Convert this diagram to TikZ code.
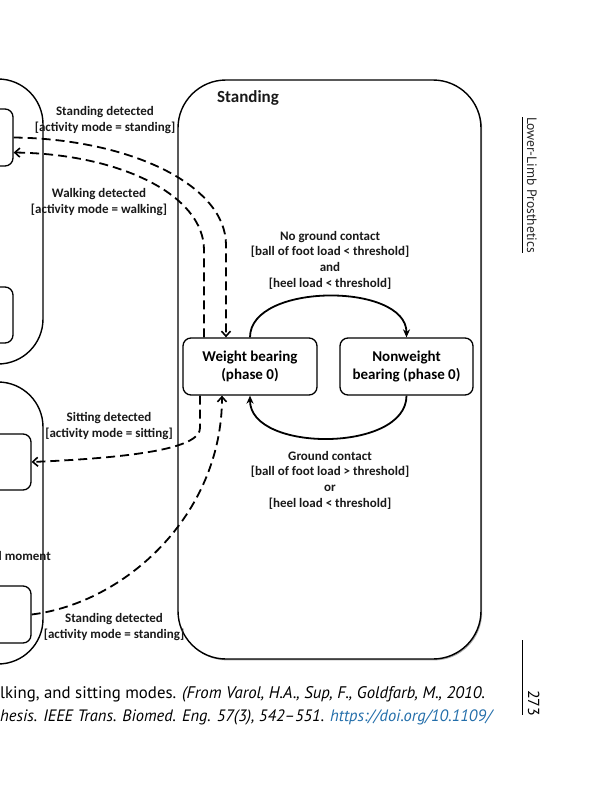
\documentclass[tikz,border=0pt]{standalone}
\usepackage{fontspec}
\setmainfont{Carlito}
\newfontfamily\capfont{PT Sans}
\usetikzlibrary{arrows.meta,shadows}
\definecolor{doiblue}{RGB}{35,110,170}

\begin{document}
\begin{tikzpicture}[x=1pt, y=-1pt,
  groupbox/.style={draw, line width=1.4pt, rounded corners=45pt, inner sep=0pt},
  statebox/.style={draw, line width=1.3pt, rounded corners=8pt, inner sep=0pt,
    align=center, font=\fontsize{15}{17.5}\selectfont\bfseries},
  lbl/.style={align=center, inner sep=0pt, text=black!90,
    font=\fontsize{13}{15.6}\selectfont\bfseries},
  trans/.style={line width=1.8pt, dash pattern=on 9pt off 5pt,
    -{Straight Barb[length=5pt,width=9pt,line width=1.6pt]}},
  cond/.style={line width=1.8pt, -{Stealth[length=8pt,width=7pt]}},
]
  \useasboundingbox (0,0) rectangle (599,800);
  \clip (0,0) rectangle (599,800);

  % --- left groups (cut off) ---
  \node[groupbox, minimum width=103pt, minimum height=285pt] (walk) at (-8.5,221.5) {};
  \node[statebox, minimum width=73pt, minimum height=57pt] (s1a) at (-23.5,137.5) {};
  \node[statebox, minimum width=73pt, minimum height=56pt] (s1b) at (-23.5,315) {};
  \node[groupbox, minimum width=103pt, minimum height=282pt] (sit) at (-8.5,523) {};
  \node[statebox, minimum width=91pt, minimum height=56pt] (s2a) at (-14.5,462) {};
  \node[statebox, minimum width=91pt, minimum height=57pt] (s2b) at (-14.5,614.5) {};
  \node[lbl, anchor=base east] (moment) at (51,560) {l moment};

  % --- standing group ---
  \node[groupbox, rounded corners=48pt, fill=white, minimum width=303pt, minimum height=579pt,
    drop shadow={shadow xshift=1.2pt, shadow yshift=-1.4pt, fill=black!65}] (stand) at (329.5,369.5) {};
  \node[font=\fontsize{17}{20}\selectfont\bfseries, text=black!90] (title) at (248,98) {Standing};

  \node[statebox] (wb) at (250,366.5) [minimum width=134pt, minimum height=57pt]
    {Weight bearing\\(phase 0)};
  \node[statebox] (nwb) at (406.5,366.5) [minimum width=133pt, minimum height=57pt]
    {Nonweight\\bearing (phase 0)};

  \draw[cond] (wb.north) .. controls +(0,-55) and +(0,-55) .. (nwb.north);
  \draw[cond] (nwb.south) .. controls +(0,57) and +(0,57) .. (wb.south);
  \node[lbl] (nogc) at (330,260)
    {No ground contact\\{[}ball of foot load < threshold{]}\\and\\{[}heel load < threshold{]}};
  \node[lbl] (gc) at (330,480)
    {Ground contact\\{[}ball of foot load > threshold{]}\\or\\{[}heel load < threshold{]}};

  % --- mode transitions ---
  \draw[trans] (s1a.east) .. controls (130,139) and (226,185) .. (226,245)
    -- ([xshift=-24pt]wb.north);
  \draw[trans] ([xshift=-46pt]wb.north) -- (204,250)
    .. controls (204,195) and (120,154) .. ([yshift=-15pt]s1a.east);
  \draw[trans] ([xshift=-50pt]wb.south) -- (200,428)
    .. controls (200,446) and (150,457) .. (s2a.east);
  \draw[trans] (s2b.east) .. controls (125,603) and (222,515) .. ([xshift=-28pt]wb.south);

  \node[lbl] (lst1) at (105,120) {Standing detected\\{[}activity mode = standing{]}};
  \node[lbl] (lwk) at (99,202) {Walking detected\\{[}activity mode = walking{]}};
  \node[lbl] (lsit) at (109,426) {Sitting detected\\{[}activity mode = sitting{]}};
  \node[lbl] (lst2) at (114,627) {Standing detected\\{[}activity mode = standing{]}};

  % --- page furniture ---
  \draw[line width=0.8pt] (522,117) -- (522,253);
  \node[rotate=-90, anchor=base west, inner sep=0pt, text=black!85,
    font=\capfont\fontsize{13.6}{15}\selectfont] (head) at (527,117) {Lower-Limb Prosthetics};
  \draw[line width=0.8pt] (522,640) -- (522,715);
  \node[rotate=-90, anchor=base west, inner sep=0pt,
    font=\capfont\fontsize{16}{18}\selectfont] (page) at (528,690) {273};

  \node[anchor=base west, inner sep=0pt, font=\capfont\fontsize{16.8}{20}\selectfont] (cap1) at (0,698)
    {lking, and sitting modes. \textit{(From Varol, H.A., Sup, F., Goldfarb, M., 2010.}};
  \node[anchor=base west, inner sep=0pt, font=\capfont\itshape\fontsize{16.5}{20}\selectfont] (cap2) at (0,721)
    {hesis. IEEE Trans. Biomed. Eng. 57(3), 542–551. \textcolor{doiblue}{https://doi.org/10.1109/}};

\end{tikzpicture}
\end{document}
